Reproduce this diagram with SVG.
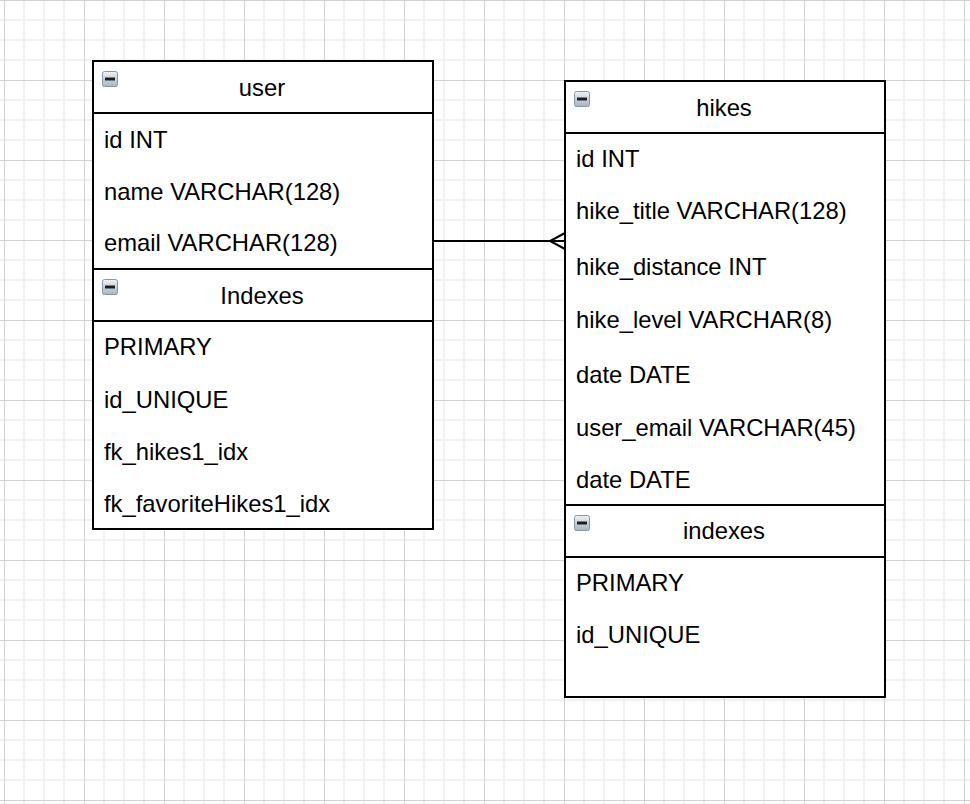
<svg xmlns="http://www.w3.org/2000/svg" width="970" height="804" viewBox="0 0 970 804">
  <style>
    .box { fill: #ffffff; stroke: #000000; stroke-width: 2; }
    .sep { stroke: #000000; stroke-width: 2; fill: none; }
    .t { font-family: "Liberation Sans", Arial, Helvetica, sans-serif; font-size: 23.8px; fill: #000000; }
    .title { text-anchor: middle; }
    .conn { stroke: #000000; stroke-width: 2; fill: none; }
  </style>
  <defs>
    <pattern id="grid" x="4" y="0" width="80" height="80" patternUnits="userSpaceOnUse">
      <rect x="0" y="0" width="80" height="80" fill="#ffffff"/>
      <rect x="19" y="0" width="2" height="80" fill="#f2f2f2"/>
      <rect x="39" y="0" width="2" height="80" fill="#f2f2f2"/>
      <rect x="59" y="0" width="2" height="80" fill="#f2f2f2"/>
      <rect x="0" y="19" width="80" height="2" fill="#f2f2f2"/>
      <rect x="0" y="39" width="80" height="2" fill="#f2f2f2"/>
      <rect x="0" y="59" width="80" height="2" fill="#f2f2f2"/>
      <rect x="0" y="0" width="1" height="80" fill="#d2d2d2"/>
      <rect x="0" y="0" width="80" height="1" fill="#d2d2d2"/>
    </pattern>
    <linearGradient id="iconGrad" x1="0" y1="0" x2="0" y2="1">
      <stop offset="0" stop-color="#eef2f6"/>
      <stop offset="1" stop-color="#a7b4c2"/>
    </linearGradient>
    <g id="minus">
      <rect x="0.5" y="0.5" width="15" height="15" rx="2" fill="url(#iconGrad)" stroke="#8797a6" stroke-width="1"/>
      <rect x="3" y="6.5" width="10" height="3" fill="#1e1e1e"/>
    </g>
  </defs>

  <rect x="0" y="0" width="970" height="804" fill="url(#grid)"/>

  <g id="connectors">
    <line class="conn" x1="433" y1="241" x2="565" y2="241"/>
    <polyline class="conn" points="565,233 550,241 565,249"/>
  </g>

  <g id="user">
    <rect class="box" x="93" y="61" width="340" height="468"/>
    <line class="sep" x1="93" y1="113" x2="433" y2="113"/>
    <line class="sep" x1="93" y1="269" x2="433" y2="269"/>
    <line class="sep" x1="93" y1="321" x2="433" y2="321"/>
    <use href="#minus" x="102" y="71"/>
    <use href="#minus" x="102" y="279"/>
    <text class="t title" x="262" y="96">user</text>
    <text class="t" x="104" y="148">id INT</text>
    <text class="t" x="104" y="200">name VARCHAR(128)</text>
    <text class="t" x="104" y="251">email VARCHAR(128)</text>
    <text class="t title" x="262" y="304">Indexes</text>
    <text class="t" x="104" y="355">PRIMARY</text>
    <text class="t" x="104" y="408">id_UNIQUE</text>
    <text class="t" x="104" y="460">fk_hikes1_idx</text>
    <text class="t" x="104" y="512">fk_favoriteHikes1_idx</text>
  </g>

  <g id="hikes">
    <rect class="box" x="565" y="81" width="320" height="616"/>
    <line class="sep" x1="565" y1="133" x2="885" y2="133"/>
    <line class="sep" x1="565" y1="505" x2="885" y2="505"/>
    <line class="sep" x1="565" y1="557" x2="885" y2="557"/>
    <use href="#minus" x="574" y="91"/>
    <use href="#minus" x="574" y="515"/>
    <text class="t title" x="724" y="116">hikes</text>
    <text class="t" x="576" y="167">id INT</text>
    <text class="t" x="576" y="219">hike_title VARCHAR(128)</text>
    <text class="t" x="576" y="275">hike_distance INT</text>
    <text class="t" x="576" y="328">hike_level VARCHAR(8)</text>
    <text class="t" x="576" y="383">date DATE</text>
    <text class="t" x="576" y="436">user_email VARCHAR(45)</text>
    <text class="t" x="576" y="488">date DATE</text>
    <text class="t title" x="724" y="539">indexes</text>
    <text class="t" x="576" y="591">PRIMARY</text>
    <text class="t" x="576" y="643">id_UNIQUE</text>
  </g>
</svg>
